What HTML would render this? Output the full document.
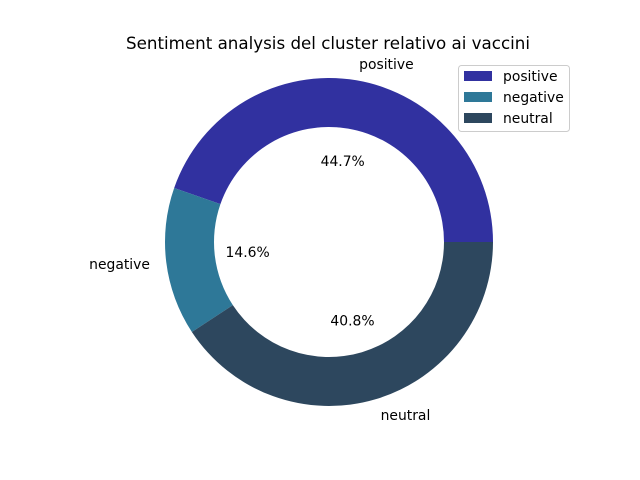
<!DOCTYPE html>
<html><head><meta charset="utf-8"><style>
html,body{margin:0;padding:0;background:#fff;}
svg{display:block;font-family:"DejaVu Sans","Liberation Sans",sans-serif;}
</style></head><body>
<svg id="chart" width="640" height="480" viewBox="0 0 640 480">
<rect width="640" height="480" fill="#fff"/>
<text x="328" y="49" text-anchor="middle" font-size="16.7" fill="#000">Sentiment analysis del cluster relativo ai vaccini</text>
<g id="slices"></g>
<g id="legend">
<rect x="458.5" y="65.5" width="111" height="66" rx="3" fill="#fff" stroke="#ccc"/>
</g>
</svg>
<script>
const categories = ["positive", "negative", "neutral"];
const values = [44.7, 14.6, 40.8];
const colors = ["#3131a0", "#2e7898", "#2d475e"];
const pctLabels = ["44.7%", "14.6%", "40.8%"];

const NS = "http://www.w3.org/2000/svg";
const cx = 329, cy = 242, R = 164, r = 115;
const g = document.getElementById("slices");
const total = values.reduce((a, b) => a + b, 0);
function pt(rad, ang) { return [cx + rad * Math.cos(ang), cy - rad * Math.sin(ang)]; }
let start = 0;
values.forEach((v, i) => {
  const sweep = v / total * 2 * Math.PI;
  const end = start + sweep;
  const large = sweep > Math.PI ? 1 : 0;
  const [x1, y1] = pt(R, start), [x2, y2] = pt(R, end);
  const [x3, y3] = pt(r, end), [x4, y4] = pt(r, start);
  const p = document.createElementNS(NS, "path");
  p.setAttribute("d", `M${x1},${y1} A${R},${R} 0 ${large} 0 ${x2},${y2} L${x3},${y3} A${r},${r} 0 ${large} 1 ${x4},${y4} Z`);
  p.setAttribute("fill", colors[i]);
  
  
  g.appendChild(p);
  const mid = start + sweep / 2;
  const [lx, ly] = pt(R * 1.1, mid);
  const t = document.createElementNS(NS, "text");
  t.setAttribute("x", lx); t.setAttribute("y", ly + 5);
  t.setAttribute("font-size", "13.9");
  t.setAttribute("text-anchor", Math.cos(mid) >= 0 ? "start" : "end");
  t.textContent = categories[i];
  
  
  g.appendChild(t);
  const [px, py] = pt(R * 0.5, mid);
  const tp = document.createElementNS(NS, "text");
  tp.setAttribute("x", px); tp.setAttribute("y", py + 5);
  tp.setAttribute("font-size", "13.9");
  tp.setAttribute("text-anchor", "middle");
  tp.textContent = pctLabels[i];
  
  
  g.appendChild(tp);
  start = end;
});
const lg = document.getElementById("legend");
categories.forEach((c, i) => {
  const y = 71 + i * 21;
  const rc = document.createElementNS(NS, "rect");
  rc.setAttribute("x", 464); rc.setAttribute("y", y);
  rc.setAttribute("width", 28); rc.setAttribute("height", 10);
  rc.setAttribute("fill", colors[i]);
  
  
  lg.appendChild(rc);
  const t = document.createElementNS(NS, "text");
  t.setAttribute("x", 503); t.setAttribute("y", y + 10);
  t.setAttribute("font-size", "13.9");
  t.textContent = c;
  
  
  lg.appendChild(t);
});
</script>
</body></html>
